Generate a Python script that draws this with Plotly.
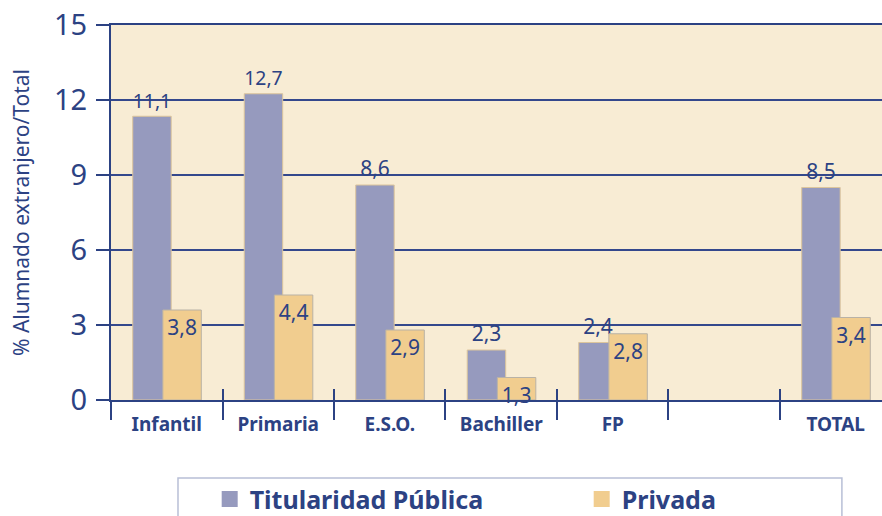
import plotly.graph_objects as go

categories = ["Infantil", "Primaria", "E.S.O.", "Bachiller", "FP", " ", "TOTAL"]
publica_values = [11.35, 12.25, 8.6, 2.0, 2.3, None, 8.5]
publica_labels = ["11,1", "12,7", "8,6", "2,3", "2,4", "", "8,5"]
privada_values = [3.6, 4.2, 2.8, 0.9, 2.65, None, 3.3]
privada_labels = ["3,8", "4,4", "2,9", "1,3", "2,8", "", "3,4"]
y_ticks = [0, 3, 6, 9, 12, 15]

NAVY = "#2c4283"
BLUE = "#969abe"
ORANGE = "#f1cd8f"
CREAM = "#f8ecd4"
FONT = "Noto Sans"

fig = go.Figure()
fig.add_trace(go.Bar(
    x=categories, y=publica_values, name="Titularidad Pública",
    width=0.345, offset=-0.305,
    marker=dict(color=BLUE, line=dict(color="#dcc59c", width=1)),
    text=publica_labels, textposition="outside", cliponaxis=False,
    textfont=dict(family=FONT, size=21, color=NAVY),
    showlegend=False,
))
fig.add_trace(go.Bar(
    x=categories, y=privada_values, name="Privada",
    width=0.345, offset=-0.035,
    marker=dict(color=ORANGE, line=dict(color="#b9b2a6", width=1)),
    text=privada_labels, textposition="inside", insidetextanchor="end",
    constraintext="none", cliponaxis=False,
    textfont=dict(family=FONT, size=21, color=NAVY),
    showlegend=False,
))
# hidden trace carrying the upper half of the category separators
fig.add_trace(go.Scatter(x=categories, y=[None] * len(categories), xaxis="x2",
                         mode="markers", showlegend=False, hoverinfo="skip"))
# legend entries
fig.add_trace(go.Scatter(x=[None], y=[None], mode="markers", name="Titularidad Pública",
                         marker=dict(symbol="square", size=16, color=BLUE)))
fig.add_trace(go.Scatter(x=[None], y=[None], mode="markers", name="Privada",
                         marker=dict(symbol="square", size=16, color=ORANGE)))

fig.update_layout(
    width=882, height=516,
    margin=dict(l=111, r=0, t=25, b=116, autoexpand=False),
    paper_bgcolor="white", plot_bgcolor=CREAM,
    barmode="overlay",
    font=dict(family=FONT, color=NAVY),
    xaxis=dict(
        type="category", categoryorder="array", categoryarray=categories,
        range=[-0.5, 6.415], showgrid=False,
        showline=True, linecolor=NAVY, linewidth=2, mirror=True,
        ticks="outside", tickson="boundaries", ticklen=18, tickwidth=2, tickcolor=NAVY,
        ticklabelstandoff=6,
        tickfont=dict(family=FONT, size=19, color=NAVY, weight="bold"),
    ),
    xaxis2=dict(
        type="category", categoryorder="array", categoryarray=categories,
        overlaying="x", range=[-0.5, 6.415], showgrid=False, showline=False,
        ticks="inside", tickson="boundaries", ticklen=11, tickwidth=2, tickcolor=NAVY,
        showticklabels=False, side="bottom",
    ),
    yaxis=dict(
        range=[0, 15], tickvals=y_ticks, showgrid=True, gridcolor="#34488c", gridwidth=2,
        showline=True, linecolor=NAVY, linewidth=2, zeroline=False,
        ticks="outside", ticklen=13, tickwidth=2, tickcolor=NAVY,
        ticklabelstandoff=3, ticklabeloverflow="allow",
        tickfont=dict(family=FONT, size=29, color=NAVY),
        title=dict(text="% Alumnado extranjero/Total", standoff=19,
                   font=dict(family=FONT, size=21, color=NAVY)),
    ),
    legend=dict(
        orientation="h", x=0.128, xanchor="left", y=-0.203, yanchor="top",
        bgcolor="rgba(0,0,0,0)", borderwidth=0,
        entrywidth=327, entrywidthmode="pixels",
        font=dict(family=FONT, size=25, color=NAVY, weight="bold"),
    ),
    shapes=[dict(type="rect", xref="paper", yref="paper",
                 x0=0.0869, x1=0.948, y0=-0.208, y1=-0.42,
                 line=dict(color="#b8bfd6", width=1.5), fillcolor="white", layer="below")],
)

fig.write_html(
    "out.html",
    config={"displayModeBar": False},
    post_script="document.body.style.margin='0';document.body.style.overflow='hidden';",
)
